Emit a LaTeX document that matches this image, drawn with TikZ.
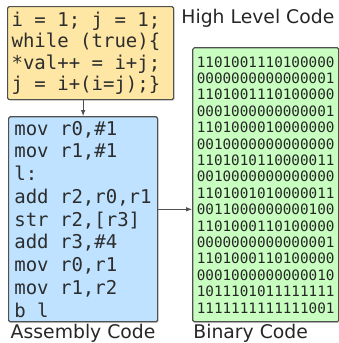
\documentclass[tikz,border=0pt]{standalone}
\usepackage{fontspec}
\setmainfont{DejaVu Sans}
\setmonofont{DejaVu Sans Mono}
\usepackage{xcolor}
\usepackage{tikz}
\usetikzlibrary{arrows.meta, positioning, shadows}
\definecolor{hllyellow}{RGB}{254, 231, 164}
\definecolor{asmblue}{RGB}{190, 226, 255}
\definecolor{bingreen}{RGB}{200, 255, 192}
\definecolor{edgegray}{RGB}{80, 80, 80}
\definecolor{inkgray}{RGB}{45, 45, 45}
% one monospace cell of blank
\newcommand{\ms}{\hphantom{0}}

\begin{document}
\begin{tikzpicture}[
    codebox/.style={draw=edgegray, line width=1.2pt, rounded corners=1.5pt, align=left,
        text=inkgray, drop shadow={shadow xshift=1.2pt, shadow yshift=-1.2pt, opacity=0.25}},
    hll/.style={codebox, fill=hllyellow, text width=158pt, inner xsep=4pt, minimum height=93pt,
        font=\fontsize{19pt}{21.5pt}\selectfont\ttfamily},
    asm/.style={codebox, fill=asmblue, text width=137.5pt, inner xsep=5.75pt, minimum height=205pt,
        font=\fontsize{19pt}{22.75pt}\selectfont\ttfamily},
    bin/.style={codebox, fill=bingreen, text width=138pt, inner xsep=4pt, minimum height=274pt,
        text=black!85, font=\fontsize{14.3pt}{16.4pt}\selectfont\ttfamily},
    lbl/.style={inner sep=0pt, text=black!85, font=\fontsize{18.8pt}{22pt}\selectfont},
    arr/.style={-{Latex[length=6pt, width=4.5pt]}, line width=1pt, edgegray},
]
\useasboundingbox (0,0) rectangle (338pt,-343pt);

% --- High level source ---
\node[hll, anchor=north west] (hll) at (7pt,-6pt)
    {i\ms=\ms1;\ms{}j\ms=\ms1;\\while\ms(true)\{\\\relax*val++\ms=\ms{}i+j;\\j\ms=\ms{}i+(i=j);\}};
\node[lbl, anchor=base west] (hlllbl) at ([xshift=7pt, yshift=-17pt]hll.north east) {High Level Code};

% --- Assembly ---
\node[asm, below=16pt of hll.south west, anchor=north west, xshift=1pt] (asm)
    {mov\ms{}r0,\#1\\mov\ms{}r1,\#1\\l:\\add\ms{}r2,r0,r1\\str\ms{}r2,[r3]\\add\ms{}r3,\#4\\mov\ms{}r0,r1\\mov\ms{}r1,r2\\b\ms{}l};
\node[lbl, below=2pt of asm] (asmlbl) {Assembly Code};

% --- Machine code ---
\node[bin, right=34pt of asm.south east, anchor=south west] (bin)
    {1101001110100000\\0000000000000001\\1101001110100000\\0001000000000001\\%
     1101000010000000\\0010000000000000\\1101010110000011\\0010000000000000\\%
     1101001010000011\\0011000000000100\\1101000110100000\\0000000000000001\\%
     1101000110100000\\0001000000000010\\1011101011111111\\1111111111111001};
\node[lbl, below=2pt of bin.south west, anchor=north west, xshift=1pt] (binlbl) {Binary Code};

% --- Compile / assemble steps ---
\draw[arr] (hll.south -| asm.north) -- (asm.north);
\draw[arr] ([yshift=10pt]asm.east) -- ([yshift=10pt]asm.east -| bin.west);

\end{tikzpicture}
\end{document}
